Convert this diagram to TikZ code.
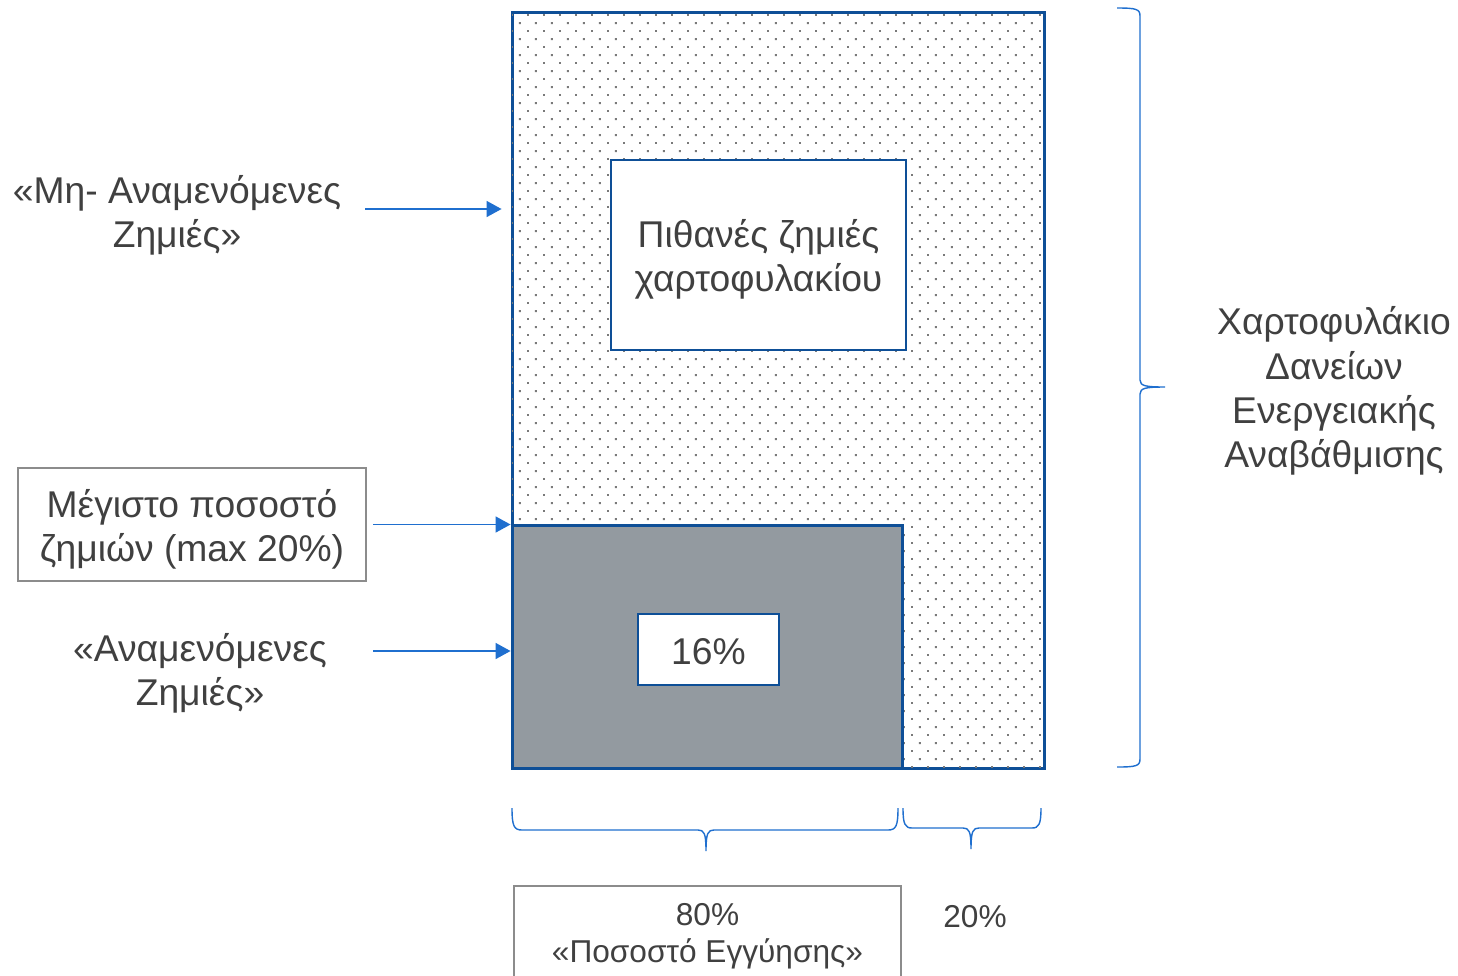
\documentclass[tikz,border=0pt]{standalone}
\usepackage{fontspec}
\setmainfont{Liberation Sans}
\usetikzlibrary{
  arrows.meta,
  patterns
}
\definecolor{lsBlue}{HTML}{0E4F97}
\definecolor{lsArrow}{HTML}{1F6FCF}
\definecolor{lsGrey}{HTML}{939AA0}
\definecolor{lsInk}{HTML}{404040}
\definecolor{lsFrame}{HTML}{8C8C8C}
\definecolor{lsDot}{HTML}{7A7A7A}

% staggered dot grid used inside the portfolio block
\pgfdeclarepatternformonly{lsdots}{\pgfpointorigin}{\pgfpoint{9.1pt}{9.1pt}}{\pgfpoint{9.1pt}{9.1pt}}{
  \pgfpathrectangle{\pgfpoint{0pt}{0pt}}{\pgfpoint{1.1pt}{1.1pt}}
  \pgfpathrectangle{\pgfpoint{4.55pt}{4.55pt}}{\pgfpoint{1.1pt}{1.1pt}}
  \pgfusepath{fill}
}

\tikzset{
  bigtext/.style={font=\fontsize{21.2}{25.2}\selectfont, text=lsInk, align=center},
  smalltext/.style={font=\fontsize{18}{21.2}\selectfont, text=lsInk, align=center},
  portfolio/.style={
    draw=lsBlue, line width=1.7pt, fill=white,
    postaction={pattern=lsdots, pattern color=lsDot},
    minimum width=10.66cm, minimum height=15.14cm
  },
  whitebox/.style={draw=lsBlue, line width=1.2pt, fill=white, inner sep=0pt},
  lossblock/.style={draw=lsBlue, line width=1.7pt, fill=lsGrey,
    minimum width=7.82cm, minimum height=4.88cm},
  greybox/.style={draw=lsFrame, line width=1.1pt, fill=white, inner sep=0pt},
  arrow/.style={-{Triangle[length=0.3cm, width=0.32cm]}, line width=0.85pt, draw=lsArrow},
  bracket/.style={line width=0.8pt, draw=lsArrow}
}

\begin{document}
\begin{tikzpicture}[x=0.02cm, y=-0.02cm]

\useasboundingbox[fill=white] (0,0) rectangle (1458,975);

% --------------------------------------------------------------------------
% Portfolio block
% --------------------------------------------------------------------------
\node[portfolio] (main) at (778.5,390.5) {};

\node[whitebox, minimum width=5.9cm, minimum height=3.8cm] (potential) at (758.5,255) {};
\node[bigtext] (potential-text) at (758.5,259) {
  Πιθανές ζημιές\\
  χαρτοφυλακίου
};

\node[lossblock] (expected) at (707.5,647) {};

\node[whitebox, minimum width=2.82cm, minimum height=1.42cm] (rate) at (708.5,649.5) {};
\node[bigtext] (rate-text) at (708.5,651.5) {16\%};

% --------------------------------------------------------------------------
% Left labels
% --------------------------------------------------------------------------
\node[bigtext] (unexp) at (177,215) {«Μη- Αναμενόμενες\\Ζημιές»};

\node[greybox, minimum width=6.96cm, minimum height=2.26cm] (maxloss) at (192,524.5) {};
\node[bigtext] (maxloss-text) at (192,529) {
  Μέγιστο ποσοστό\\
  ζημιών (max 20\%)
};

\node[bigtext] (exp) at (200,673) {«Αναμενόμενες\\Ζημιές»};

\coordinate (unexp-out) at (365,209);
\coordinate (max-out) at (373,524.5);
\coordinate (exp-out) at (373,651);

\draw[arrow, shorten >=0.18cm] (unexp-out) -- (unexp-out -| main.west);
\draw[arrow] (max-out) -- (max-out -| main.west);
\draw[arrow] (exp-out) -- (exp-out -| main.west);

% --------------------------------------------------------------------------
% Right bracket
% --------------------------------------------------------------------------
\draw[bracket] (1117,8) .. controls (1136,8) and (1140,9) .. (1140,16)
  -- (1140,380) .. controls (1140,386) and (1146,387) .. (1165,387)
  .. controls (1146,387) and (1140,388) .. (1140,394)
  -- (1140,759) .. controls (1140,766) and (1136,767) .. (1117,767);

\node[bigtext] (loans) at (1334,391) {
  Χαρτοφυλάκιο\\
  Δανείων\\
  Ενεργειακής\\
  Αναβάθμισης
};

% --------------------------------------------------------------------------
% Bottom brackets
% --------------------------------------------------------------------------
\draw[bracket] (512,808) .. controls (512,826) and (514,830) .. (522,830)
  -- (698,830) .. controls (704,830) and (706,833) .. (706,851)
  .. controls (706,833) and (708,830) .. (714,830)
  -- (888,830) .. controls (896,830) and (898,826) .. (898,808);

\draw[bracket] (903,808) .. controls (903,824) and (905,828) .. (912,828)
  -- (963,828) .. controls (969,828) and (971,831) .. (971,849)
  .. controls (971,831) and (973,828) .. (979,828)
  -- (1032,828) .. controls (1039,828) and (1041,824) .. (1041,808);

\node[greybox, minimum width=7.74cm, minimum height=2.4cm] (guarantee) at (707.5,946) {};
\node[smalltext] (guarantee-text) at (707.5,936.5) {80\%\\«Ποσοστό Εγγύησης»};

\node[smalltext] (rest) at (975,917) {20\%};

\end{tikzpicture}
\end{document}
